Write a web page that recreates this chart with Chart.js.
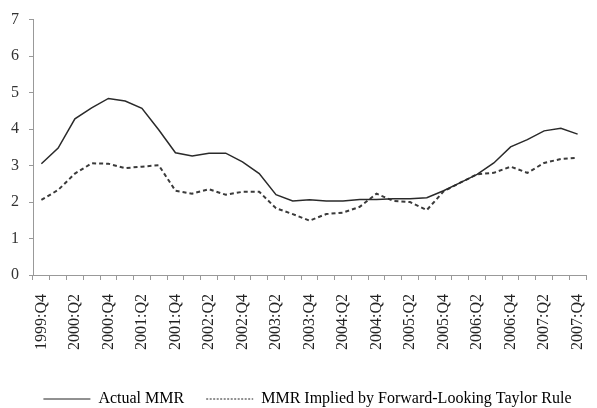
<!DOCTYPE html>
<html>
<head>
<meta charset="utf-8">
<script src="https://cdn.jsdelivr.net/npm/chart.js@4/dist/chart.umd.min.js"></script>
<style>
html, body { margin: 0; padding: 0; background: #fff; }
#wrap { width: 597px; height: 408px; }
</style>
</head>
<body>
<div id="wrap"><canvas id="c"></canvas></div>
<script>
// quarters 1999:Q4 .. 2007:Q4
const quarters = [];
for (let y = 1999; y <= 2007; y++) {
  for (let q = 1; q <= 4; q++) {
    if (y === 1999 && q < 4) continue;
    quarters.push(y + ':Q' + q);
  }
}

const actualMMR = [3.05, 3.48, 4.28, 4.58, 4.84, 4.77, 4.57, 3.98, 3.35, 3.26, 3.34, 3.34, 3.10, 2.78, 2.20, 2.03,
  2.06, 2.03, 2.03, 2.07, 2.07, 2.09, 2.09, 2.12, 2.31, 2.53, 2.76, 3.07, 3.51, 3.71, 3.95, 4.02, 3.86];
const taylorMMR = [2.06, 2.33, 2.78, 3.06, 3.05, 2.93, 2.97, 3.01, 2.31, 2.23, 2.35, 2.20, 2.28, 2.28, 1.83, 1.67,
  1.49, 1.67, 1.71, 1.87, 2.23, 2.03, 2.00, 1.78, 2.29, 2.53, 2.76, 2.80, 2.97, 2.80, 3.07, 3.18, 3.21];

const serif = '"Liberation Serif", "DejaVu Serif", serif';

// nudge the legend a bit to the right, like the original
const legendShift = {
  id: 'legendShift',
  afterLayout(chart) {
    if (chart.legend) {
      chart.legend.left += 14;
      chart.legend.right += 14;
    }
  }
};

new Chart(document.getElementById('c'), {
  type: 'line',
  data: {
    labels: quarters,
    datasets: [
      {
        label: 'Actual MMR',
        data: actualMMR,
        borderColor: '#2a2a2a',
        borderWidth: 1.5,
        pointRadius: 0,
        tension: 0
      },
      {
        label: 'MMR Implied by Forward-Looking Taylor Rule',
        data: taylorMMR,
        borderColor: '#3a3a3a',
        borderWidth: 2,
        borderDash: [4, 3],
        pointRadius: 0,
        tension: 0
      }
    ]
  },
  plugins: [legendShift],
  options: {
    responsive: true,
    maintainAspectRatio: false,
    animation: false,
    layout: { padding: { left: 1, right: 11, top: 4, bottom: -9 } },
    plugins: {
      tooltip: { enabled: false },
      legend: {
        position: 'bottom',
        labels: {
          usePointStyle: true,
          pointStyle: 'line',
          pointStyleWidth: 47,
          color: '#222',
          font: { family: serif, size: 16 },
          padding: 22,
          generateLabels: function(chart) {
            return chart.data.datasets.map(function(ds, i) {
              return {
                text: ds.label,
                strokeStyle: '#222',
                fillStyle: '#222',
                lineWidth: 1,
                lineDash: ds.borderDash ? [2, 1.5] : [],
                pointStyle: 'line',
                datasetIndex: i
              };
            });
          }
        }
      }
    },
    scales: {
      x: {
        offset: true,
        afterFit: function(scale) {
          scale.height += 5;
          scale.paddingLeft = 0;
          scale.paddingRight = 0;
        },
        grid: {
          offset: true,
          drawOnChartArea: false,
          drawTicks: true,
          tickLength: 5,
          color: '#999'
        },
        border: { color: '#999', width: 1 },
        ticks: {
          autoSkip: false,
          maxRotation: 90,
          minRotation: 90,
          padding: 14,
          color: '#222',
          font: { family: serif, size: 16 },
          callback: function(v, i) { return i % 2 === 0 ? quarters[i] : ''; }
        }
      },
      y: {
        min: 0,
        max: 7,
        grid: {
          drawOnChartArea: false,
          drawTicks: true,
          tickLength: 4,
          color: '#999'
        },
        border: { color: '#999', width: 1 },
        ticks: {
          stepSize: 1,
          padding: 10,
          color: '#333',
          font: { family: serif, size: 16 }
        }
      }
    }
  }
});
</script>
</body>
</html>
